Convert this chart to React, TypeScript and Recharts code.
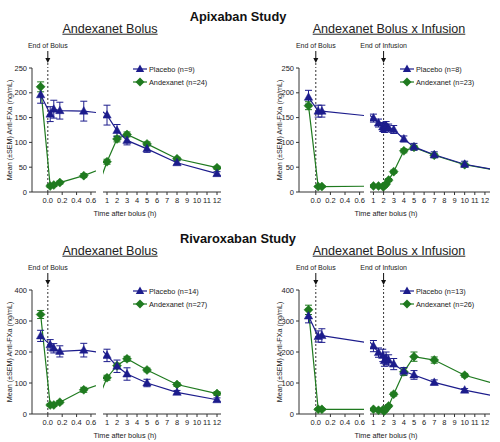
import { LineChart, Line, XAxis, YAxis, ErrorBar, ReferenceLine } from "recharts";

// time after bolus (h); -0.1 = pre-dose sample
const bolusTimes = [-0.1, 0.033, 0.083, 0.167, 0.5, 1, 2, 3, 5, 8, 12];
// infusion arms: 14 h point lies past the axis end (line runs off the edge)
const infusionTimes = [-0.1, 0.033, 0.083, 1, 1.5, 1.92, 2.08, 2.25, 2.5, 3, 4, 5, 7, 10, 14];

// Apixaban - bolus
const apxBolusPbo = [196, 157, 167, 164, 163, 155, 124, 104, 87, 59, 37];
const apxBolusPboErr = [17, 15, 18, 17, 20, 20, 12, 9, 7, 4, 4];
const apxBolusAdx = [212, 12, 14, 19, 33, 61, 107, 116, 97, 67, 49];
const apxBolusAdxErr = [10, 3, 3, 3, 4, 5, 6, 5, 4, 3, 3];

// Apixaban - bolus + infusion
const apxInfPbo = [191, 163, 163, 149, 139, 131, 129, 134, 129, 126, 107, 91, 75, 56, 41];
const apxInfPboErr = [14, 12, 12, 8, 8, 9, 9, 8, 8, 8, 6, 7, 6, 6, 0];
const apxInfAdx = [174, 11, 11, 12, 12, 11, 12, 16, 24, 41, 83, 90, 74, 55, 41];
const apxInfAdxErr = [8, 2, 2, 2, 2, 2, 2, 2, 3, 3, 4, 4, 4, 3, 0];

// Rivaroxaban - bolus
const rivBolusPbo = [252, 223, 212, 202, 206, 189, 154, 129, 100, 70, 46];
const rivBolusPboErr = [18, 17, 15, 18, 22, 20, 20, 20, 12, 6, 6];
const rivBolusAdx = [321, 29, 29, 38, 78, 117, 156, 178, 142, 95, 66];
const rivBolusAdxErr = [13, 4, 4, 5, 8, 8, 8, 8, 6, 6, 6];

// Rivaroxaban - bolus + infusion
const rivInfPbo = [316, 250, 253, 219, 198, 189, 172, 180, 173, 161, 138, 126, 102, 77, 51];
const rivInfPboErr = [22, 18, 22, 18, 15, 20, 18, 20, 18, 18, 12, 14, 8, 5, 0];
const rivInfAdx = [336, 15, 15, 15, 12, 13, 10, 17, 26, 64, 136, 185, 174, 125, 88];
const rivInfAdxErr = [15, 3, 3, 3, 3, 3, 3, 3, 4, 6, 12, 15, 10, 6, 0];

const leftTicks = [0, 0.2, 0.4, 0.6];
const rightTicks = [1, 2, 3, 4, 5, 6, 7, 8, 9, 10, 11, 12];
const apxYTicks = [0, 50, 100, 150, 200, 250];
const rivYTicks = [0, 100, 200, 300, 400];

const PLACEBO = "#1c1c8c";
const ANDEXANET = "#1f7a1f";
const AXIS = "#333";
const FONT = '"Liberation Sans", Arial, sans-serif';

const bolusLayout = {
  axisX: 32, leftEnd: 96, rightStart: 103, rightEnd: 221,
  leftDomain: [-0.22, 0.67], rightDomain: [0.6, 12.4],
  subtitleX: 110, xLabelX: 125, yLabelX: 10, legendX: 140,
};
const infusionLayout = {
  axisX: 49, leftEnd: 114, rightStart: 120, rightEnd: 240,
  leftDomain: [-0.23, 0.66], rightDomain: [0.66, 12.5],
  subtitleX: 139, xLabelX: 136, yLabelX: 30, legendX: 157,
};

const CHART_TOP = 36;
const MARGIN_TOP = 32;
const PLOT_H = 124;
const XAXIS_H = 14;

function buildRows(times: number[], pbo: number[], pboErr: number[], adx: number[], adxErr: number[], domain: number[]) {
  return times.map((t, i) => {
    const inside = t >= domain[0] && t <= domain[1];
    return {
      t,
      p: pbo[i],
      a: adx[i],
      pe: inside ? pboErr[i] : undefined,
      ae: inside ? adxErr[i] : undefined,
      inside,
    };
  });
}

function makeDot(kind: "triangle" | "diamond", color: string) {
  return (props: any) => {
    const { cx, cy, payload, index } = props;
    const key = `${kind}-${index}`;
    if (!payload || !payload.inside || cx == null || cy == null) return <g key={key} />;
    const pts =
      kind === "triangle"
        ? `${cx},${cy - 4.5} ${cx + 4.2},${cy + 3} ${cx - 4.2},${cy + 3}`
        : `${cx},${cy - 4.5} ${cx + 4.5},${cy} ${cx},${cy + 4.5} ${cx - 4.5},${cy}`;
    return <polygon key={key} points={pts} fill={color} stroke={color} strokeWidth={0.5} />;
  };
}

// arrow + caption above a vertical reference line
function EndMark(props: any) {
  const { viewBox, text } = props;
  if (!viewBox) return null;
  const x = viewBox.x;
  const top = viewBox.y;
  return (
    <g>
      <text x={x} y={top - 20} textAnchor="middle" fontSize={7} fill="#222" fontFamily={FONT}>
        {text}
      </text>
      <line x1={x} x2={x} y1={top - 17} y2={top - 9} stroke="#111" strokeWidth={1} />
      <path d={`M${x - 2.5},${top - 10}L${x + 2.5},${top - 10}L${x},${top - 5}Z`} fill="#111" />
      <line x1={x} x2={x} y1={top - 5} y2={top} stroke="#333" strokeDasharray="2 2" />
    </g>
  );
}

const tickStyle = { fontSize: 7.5, fill: "#222", fontFamily: FONT };

function Panel(props: any) {
  const { x, y, layout, subtitle, yTicks, times, pbo, pboErr, adx, adxErr, pboLabel, adxLabel, infusion } = props;
  const L = layout;
  const yDomain = [0, yTicks[yTicks.length - 1]];
  const leftRows = buildRows(times, pbo, pboErr, adx, adxErr, L.leftDomain);
  const rightRows = buildRows(times, pbo, pboErr, adx, adxErr, L.rightDomain);
  const chartH = MARGIN_TOP + PLOT_H + XAXIS_H;
  const leftW = 32 + (L.leftEnd - L.axisX) + 4;
  const rightW = L.rightEnd - L.rightStart + 8;

  // andexanet first so placebo sits on top where they overlap
  const lines = [
    <Line key="a" type="linear" dataKey="a" stroke={ANDEXANET} strokeWidth={1.2}
      dot={makeDot("diamond", ANDEXANET)} activeDot={false} isAnimationActive={false}>
      <ErrorBar dataKey="ae" width={3.5} stroke={ANDEXANET} strokeWidth={1} />
    </Line>,
    <Line key="p" type="linear" dataKey="p" stroke={PLACEBO} strokeWidth={1.2}
      dot={makeDot("triangle", PLACEBO)} activeDot={false} isAnimationActive={false}>
      <ErrorBar dataKey="pe" width={3.5} stroke={PLACEBO} strokeWidth={1} />
    </Line>,
  ];

  const center: any = { position: "absolute", transform: "translate(-50%,-50%)", whiteSpace: "nowrap", lineHeight: 1 };

  return (
    <div style={{ position: "absolute", left: x, top: y, width: 250, height: 220 }}>
      <div style={{ ...center, left: L.subtitleX, top: 29, fontSize: 12.6, color: "#222", textDecoration: "underline" }}>
        {subtitle}
      </div>

      <div style={{ position: "absolute", left: L.axisX - 32, top: CHART_TOP }}>
        <LineChart width={leftW} height={chartH} data={leftRows} margin={{ top: MARGIN_TOP, right: 4, left: 0, bottom: 0 }}>
          <XAxis type="number" dataKey="t" domain={L.leftDomain} allowDataOverflow ticks={leftTicks} interval={0}
            tickFormatter={(v: number) => v.toFixed(1)} height={XAXIS_H} tickSize={3} tickMargin={3}
            stroke={AXIS} tick={tickStyle} />
          <YAxis type="number" domain={yDomain} ticks={yTicks} interval={0} width={32} tickSize={3} tickMargin={2}
            stroke={AXIS} tick={tickStyle} />
          <ReferenceLine x={0} stroke="#333" strokeDasharray="2 2" label={<EndMark text="End of Bolus" />} />
          {lines}
        </LineChart>
      </div>

      <div style={{ position: "absolute", left: L.rightStart, top: CHART_TOP }}>
        <LineChart width={rightW} height={chartH} data={rightRows} margin={{ top: MARGIN_TOP, right: 8, left: 0, bottom: 0 }}>
          <XAxis type="number" dataKey="t" domain={L.rightDomain} allowDataOverflow ticks={rightTicks} interval={0}
            height={XAXIS_H} tickSize={3} tickMargin={3} stroke={AXIS} tick={tickStyle} />
          <YAxis type="number" domain={yDomain} hide />
          {infusion && (
            <ReferenceLine x={2} stroke="#333" strokeDasharray="2 2" label={<EndMark text="End of Infusion" />} />
          )}
          {lines}
        </LineChart>
      </div>

      <div style={{ ...center, left: L.yLabelX, top: CHART_TOP + MARGIN_TOP + PLOT_H / 2, transform: "translate(-50%,-50%) rotate(-90deg)", fontSize: 7.2, color: "#222" }}>
        Mean (±SEM) Anti-FXa (ng/mL)
      </div>
      <div style={{ ...center, left: L.xLabelX, top: 214, fontSize: 7.3, color: "#222" }}>Time after bolus (h)</div>

      {[
        { label: pboLabel, kind: "triangle", color: PLACEBO, top: 69 },
        { label: adxLabel, kind: "diamond", color: ANDEXANET, top: 82 },
      ].map((item) => (
        <div key={item.label} style={{ position: "absolute", left: L.legendX - 7, top: item.top - 5, height: 10, display: "flex", alignItems: "center", whiteSpace: "nowrap" }}>
          <svg width={14} height={10} style={{ display: "block" }}>
            <line x1={0} x2={14} y1={5} y2={5} stroke={item.color} strokeWidth={1.2} />
            {item.kind === "triangle" ? (
              <polygon points="7,0.5 11.2,8 2.8,8" fill={item.color} />
            ) : (
              <polygon points="7,0.5 11.5,5 7,9.5 2.5,5" fill={item.color} />
            )}
          </svg>
          <span style={{ fontSize: 7.3, color: "#222", marginLeft: 2 }}>{item.label}</span>
        </div>
      ))}
    </div>
  );
}

export default function App() {
  const center: any = { position: "absolute", transform: "translate(-50%,-50%)", whiteSpace: "nowrap", lineHeight: 1 };
  return (
    <div style={{ position: "absolute", left: 0, top: 0, width: 500, height: 442, background: "#fff", fontFamily: FONT, overflow: "hidden" }}>
      <style>{`.recharts-surface{overflow:visible}`}</style>
      <div style={{ ...center, left: 238, top: 17, fontSize: 12.8, fontWeight: "bold", color: "#111" }}>Apixaban Study</div>
      <div style={{ ...center, left: 238, top: 239, fontSize: 12.8, fontWeight: "bold", color: "#111" }}>Rivaroxaban Study</div>

      <Panel x={0} y={0} layout={bolusLayout} subtitle="Andexanet Bolus" yTicks={apxYTicks}
        times={bolusTimes} pbo={apxBolusPbo} pboErr={apxBolusPboErr} adx={apxBolusAdx} adxErr={apxBolusAdxErr}
        pboLabel="Placebo (n=9)" adxLabel="Andexanet (n=24)" />
      <Panel x={250} y={0} layout={infusionLayout} subtitle="Andexanet Bolus x Infusion" yTicks={apxYTicks}
        times={infusionTimes} pbo={apxInfPbo} pboErr={apxInfPboErr} adx={apxInfAdx} adxErr={apxInfAdxErr}
        pboLabel="Placebo (n=8)" adxLabel="Andexanet (n=23)" infusion />
      <Panel x={0} y={222} layout={bolusLayout} subtitle="Andexanet Bolus" yTicks={rivYTicks}
        times={bolusTimes} pbo={rivBolusPbo} pboErr={rivBolusPboErr} adx={rivBolusAdx} adxErr={rivBolusAdxErr}
        pboLabel="Placebo (n=14)" adxLabel="Andexanet (n=27)" />
      <Panel x={250} y={222} layout={infusionLayout} subtitle="Andexanet Bolus x Infusion" yTicks={rivYTicks}
        times={infusionTimes} pbo={rivInfPbo} pboErr={rivInfPboErr} adx={rivInfAdx} adxErr={rivInfAdxErr}
        pboLabel="Placebo (n=13)" adxLabel="Andexanet (n=26)" infusion />
    </div>
  );
}
